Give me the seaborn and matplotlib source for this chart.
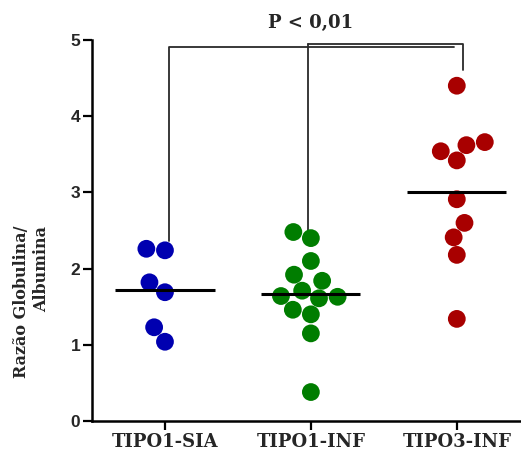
import numpy as np
import pandas as pd
import matplotlib
matplotlib.use("Agg")
import matplotlib.pyplot as plt
import seaborn as sns

# Globulin/albumin ratio per animal, grouped by clinical type
groups = ["TIPO1-SIA", "TIPO1-INF", "TIPO3-INF"]
tipo1_sia = [2.24, 2.26, 1.82, 1.69, 1.23, 1.04]
tipo1_inf = [2.40, 2.48, 2.10, 1.92, 1.84, 1.64, 1.61, 1.71, 1.63, 1.46, 1.40, 1.15, 0.38]
tipo3_inf = [4.40, 3.66, 3.54, 3.62, 3.42, 2.91, 2.60, 2.41, 2.18, 1.34]
colors = ["#0000B0", "#007D00", "#A80000"]
p_label = "P < 0,01"
y_ticks = [0, 1, 2, 3, 4, 5]

df = pd.DataFrame({
    "grupo": [groups[0]] * len(tipo1_sia) + [groups[1]] * len(tipo1_inf) + [groups[2]] * len(tipo3_inf),
    "razao": tipo1_sia + tipo1_inf + tipo3_inf,
})

sns.set_style("white")
fig = plt.figure(figsize=(5.21, 4.5), dpi=100)
ax = fig.add_axes([92 / 521, 29 / 450, 1 - 92 / 521, 381 / 450])

sns.swarmplot(data=df, x="grupo", y="razao", hue="grupo", order=groups,
              palette=colors, size=12.8, linewidth=0, legend=False, ax=ax)

# mean line for each group
means = df.groupby("grupo")["razao"].mean().reindex(groups)
for i, m in enumerate(means):
    ax.hlines(m, i - 0.34, i + 0.34, color="black", lw=2.2, zorder=5)

# comparison bracket
top_ref = 4.91
top_hi = 4.95
bracket_kw = dict(color="#2a2a2a", lw=1.3, clip_on=False)
ax.plot([0.03, 0.03, 0.98], [max(tipo1_sia) + 0.1, top_ref, top_ref], **bracket_kw)
ax.plot([0.98, 0.98], [max(tipo1_inf), top_hi], **bracket_kw)
ax.plot([0.98, 2.04, 2.04], [top_hi, top_hi, 4.60], **bracket_kw)
ax.plot([0.98, 1.98], [top_ref, top_ref], **bracket_kw)
ax.text(1.0, 5.22, p_label, ha="center", va="center", fontsize=13,
        fontweight="bold", family="DejaVu Serif")

ax.set_xlim(-0.5, 2.44)
ax.set_ylim(0, 5)
ax.set_yticks(y_ticks)
ax.set_yticklabels([str(t) for t in y_ticks], fontsize=12.5, fontweight="bold",
                   family="Liberation Sans")
ax.set_xticks(range(len(groups)))
ax.set_xticklabels(groups, fontsize=13, fontweight="bold", family="DejaVu Serif")
ax.set_xlabel("")
ax.set_ylabel("Razão Globulina/\nAlbumina", fontsize=11.5, fontweight="bold",
              family="DejaVu Serif", multialignment="right")
ax.yaxis.set_label_coords(-0.098, 0.312)

for s in ["top", "right"]:
    ax.spines[s].set_visible(False)
for s in ["left", "bottom"]:
    ax.spines[s].set_color("black")
    ax.spines[s].set_linewidth(1.8)
ax.tick_params(axis="both", direction="out", length=6.5, width=1.6, color="black",
               left=True, bottom=True, pad=2)

fig.savefig("out.png", dpi=100, facecolor="white")
